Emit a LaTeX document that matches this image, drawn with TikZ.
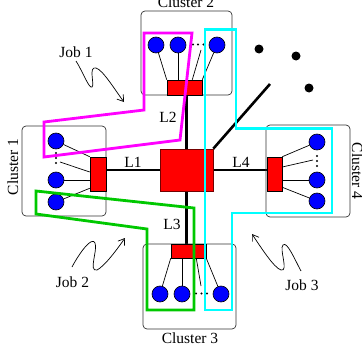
\documentclass[tikz,border=0pt]{standalone}
\usepackage{fontspec}
\setmainfont{Liberation Serif}
\usetikzlibrary{arrows.meta,calc,backgrounds}
\definecolor{jobgreen}{RGB}{0,200,0}
\definecolor{jobmagenta}{RGB}{255,0,255}
\definecolor{jobcyan}{RGB}{0,255,255}
\definecolor{nodeblue}{RGB}{0,0,255}
\definecolor{nodered}{RGB}{255,0,0}

\begin{document}
\begin{tikzpicture}[x=1pt,y=-1pt,
  every node/.style={font=\fontsize{15.5}{18}\selectfont, inner sep=0pt},
  cluster/.style={draw=black!80, line width=0.7pt, rounded corners=4pt},
  router/.style={draw=black, fill=nodered, line width=0.6pt},
  pe/.style={circle, draw=black, fill=nodeblue, line width=0.6pt, minimum size=16pt},
  wire/.style={line width=0.7pt},
  link/.style={line width=2.6pt},
  job/.style={line width=2.8pt, line join=miter},
  squig/.style={line width=0.7pt, -{Straight Barb[length=6pt,width=8pt]}},
  ell/.style={fill=black}
]
\useasboundingbox (0,0) rectangle (362,356);

% cluster frames
\node[cluster, minimum width=91pt, minimum height=84pt] (k2) at (186.5,53) {};
\node[cluster, minimum width=84pt, minimum height=90pt] (k1) at (64,171) {};
\node[cluster, minimum width=93pt, minimum height=85pt] (k3) at (189.5,286.5) {};
\node[cluster, minimum width=84pt, minimum height=92pt] (k4) at (308,171) {};

% routers and central switch
\node[router, minimum width=16pt, minimum height=34pt] (r1) at (98,174) {};
\node[router, minimum width=35pt, minimum height=15pt] (r2) at (184.5,87.5) {};
\node[router, minimum width=35pt, minimum height=14pt] (r3) at (188.5,251) {};
\node[router, minimum width=15pt, minimum height=34pt] (r4) at (274.5,174) {};
\node[router, draw=red!45!black, minimum width=53pt, minimum height=42pt] (hub) at (186.5,170) {};

% processing elements
\node[pe] (c11) at (56,141) {};
\node[pe] (c12) at (56,180) {};
\node[pe] (c13) at (56,202) {};
\node[pe] (c21) at (156,45) {};
\node[pe] (c22) at (178,45) {};
\node[pe] (c23) at (217,45) {};
\node[pe] (c31) at (160,294) {};
\node[pe] (c32) at (182,294) {};
\node[pe] (c33) at (221,294) {};
\node[pe] (c41) at (317,142) {};
\node[pe] (c42) at (317,180) {};
\node[pe] (c43) at (317,201) {};

\coordinate (d1) at (60,162);
\coordinate (d2) at (201,50);
\coordinate (d3) at (201,286);
\coordinate (d4) at (313,160);
\coordinate (far) at (270,84);

\begin{scope}[on background layer]
  % cluster 1 wiring
  \draw[wire] (c11) -- (r1.north west);
  \draw[wire] (d1) -- ($(r1.west)+(0,-2)$);
  \draw[wire] (c12) -- (c12 -| r1.west);
  \draw[wire] (c13) -- ($(r1.south west)+(0,-3)$);
  % cluster 2 wiring
  \draw[wire] (c21) -- (r2.north west);
  \draw[wire] (c22) -- (c22 |- r2.north);
  \draw[wire] (d2) -- ($(r2.north east)+(-10,0)$);
  \draw[wire] (c23) -- (r2.north east);
  % cluster 3 wiring
  \draw[wire] (c31) -- (r3.south west);
  \draw[wire] (c32) -- (c32 |- r3.south);
  \draw[wire] (d3) -- ($(r3.south east)+(-10,0)$);
  \draw[wire] (c33) -- (r3.south east);
  % cluster 4 wiring
  \draw[wire] (c41) -- (r4.north east);
  \draw[wire] (d4) -- ($(r4.east)+(0,-7)$);
  \draw[wire] (c42) -- (c42 -| r4.east);
  \draw[wire] (c43) -- ($(r4.south east)+(0,-4)$);
  % inter-cluster links
  \draw[link] (r1.east |- hub.west) -- (hub.west);
  \draw[link] (hub.north) -- (hub.north |- r2.south);
  \draw[link] (hub.south) -- (hub.south |- r3.north);
  \draw[link] (hub.east) -- (hub.east -| r4.west);
  \draw[link] (hub.north east) -- (far);
\end{scope}

% ellipsis dots inside clusters
\foreach \p in {(56,153),(56,158),(56,163),
                (193,44.5),(198,44.5),(203.5,44.5),
                (196,293.5),(201.5,293.5),(207,293.5),
                (317,156),(317,161),(317,166)}
  \fill[ell] \p circle[radius=1.2pt];

% further clusters
\fill (259,49) circle[radius=4.5pt];
\fill (296,56) circle[radius=4.5pt];
\fill (309,88) circle[radius=4.5pt];

% labels
\node[anchor=base] (t2) at (186,7.5) {Cluster 2};
\node[anchor=base] (t3) at (190,343) {Cluster 3};
\node[anchor=base, rotate=90] (t1) at (18,167) {Cluster 1};
\node[anchor=base, rotate=-90] (t4) at (352,171) {Cluster 4};
\node (l1) at (133,162.5) {L1};
\node (l2) at (168,117) {L2};
\node (l3) at (172,224) {L3};
\node (l4) at (241,162) {L4};
\node[anchor=base] (j1) at (76,57) {Job 1};
\node[anchor=base] (j2) at (72.5,287) {Job 2};
\node[anchor=base] (j3) at (302,290.5) {Job 3};

% job allocations
\draw[job, jobmagenta] (144,33) -- (192,33) -- (180,140) -- (44,157) -- (44,122) -- (144,110) -- cycle;
\draw[job, jobcyan] (205,29.5) -- (236,29.5) -- (236,128.5) -- (332,128.5) -- (332,213) -- (232,213) -- (232,310) -- (205,310) -- cycle;
\draw[job, jobgreen] (36,191) -- (194,208) -- (194,310) -- (147,310) -- (147,229) -- (36,214) -- cycle;

% squiggle pointers
\draw[squig] (76,61) .. controls (83,72) and (89,89) .. (92,87)
  .. controls (95,85) and (88,66) .. (96,68)
  .. controls (103,70) and (115,90) .. (124,102);
\draw[squig] (72,267) .. controls (80,252) and (92,236) .. (95,243)
  .. controls (98,250) and (88,272) .. (97,270)
  .. controls (105,266) and (118,248) .. (125,238);
\draw[squig] (301,271) .. controls (294,258) and (287,241) .. (283,245)
  .. controls (279,249) and (289,272) .. (281,270)
  .. controls (274,268) and (260,246) .. (252,234);
\end{tikzpicture}
\end{document}
